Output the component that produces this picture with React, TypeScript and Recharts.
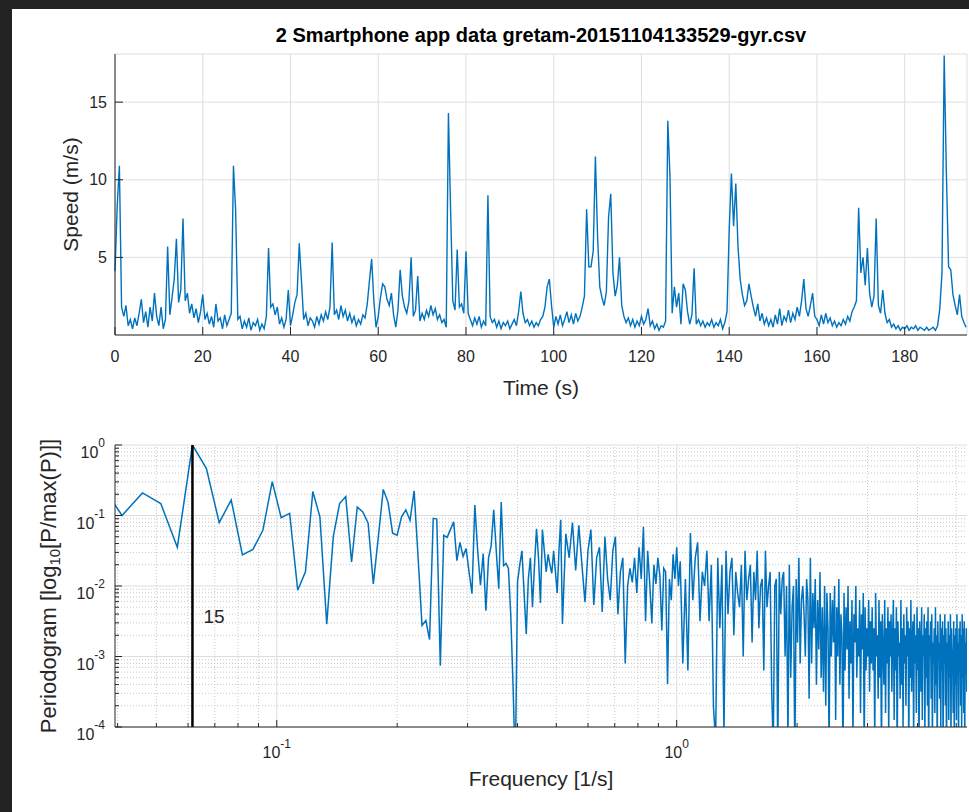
import { LineChart, Line, XAxis, YAxis, CartesianGrid, ReferenceLine } from "recharts";

const TITLE = "2 Smartphone app data gretam-20151104133529-gyr.csv";

// speed trace, one reading every half second, 0 .. 194 s
const SAMPLE_STEP = 0.5;
const speed = [
  4.1, 8.3, 10.9, 1.8, 1.2, 1.9, 0.6, 1.0, 0.4, 1.1, 0.6, 1.4, 2.3, 0.8, 1.5, 0.5, 1.8, 0.9, 2.7, 1.2,
  0.6, 1.8, 0.4, 1.0, 5.7, 1.3, 2.4, 3.6, 6.2, 2.1, 2.9, 7.5, 2.2, 2.7, 1.4, 2.0, 1.1, 1.7, 0.8, 1.5,
  2.6, 1.0, 1.4, 0.7, 1.2, 0.5, 2.0, 0.9, 1.1, 0.4, 1.3, 0.6, 1.0, 1.4, 10.9, 8.0, 1.0, 1.2, 0.4, 0.9,
  0.5, 1.1, 0.3, 0.8, 0.6, 1.0, 0.3, 0.7, 0.4, 1.2, 5.6, 1.8, 2.0, 1.3, 1.8, 0.7, 1.1, 0.5, 1.0, 2.9,
  0.6, 1.3, 2.1, 2.6, 5.9, 3.5, 1.0, 1.4, 0.6, 1.1, 0.9, 0.5, 1.2, 0.7, 1.3, 0.9, 1.5, 1.0, 1.8, 5.95,
  1.3, 1.6, 1.0, 1.9, 1.2, 1.6, 0.9, 1.4, 0.8, 1.2, 0.6, 1.0, 0.7, 1.3, 1.1, 2.0, 3.5, 4.9, 2.2, 0.5,
  1.2, 2.4, 3.3, 3.1, 2.3, 1.9, 2.7, 1.3, 0.5, 1.6, 4.2, 2.5, 1.8, 1.4, 2.2, 5.0, 1.2, 1.6, 3.8, 0.9,
  1.4, 1.0, 1.6, 1.2, 1.9, 1.3, 1.7, 1.0, 1.3, 0.8, 1.0, 0.5, 14.3, 8.0, 2.2, 1.6, 5.5, 1.8, 2.0, 1.4,
  5.4, 1.4, 1.0, 0.6, 1.1, 0.7, 1.2, 0.5, 0.9, 0.6, 9.0, 1.2, 0.8, 1.0, 0.5, 0.9, 0.4, 0.8, 0.6, 0.9,
  0.4, 0.7, 1.0, 0.6, 1.5, 2.8, 1.4, 0.8, 1.0, 0.6, 0.9, 0.5, 0.8, 0.6, 1.0, 1.2, 1.8, 3.1, 3.6, 1.9,
  0.5, 1.2, 0.7, 1.3, 0.6, 1.0, 1.5, 0.8, 1.3, 0.7, 1.4, 0.9, 1.2, 1.8, 2.5, 8.1, 4.4, 4.4, 5.4, 11.5,
  6.3, 3.1, 2.4, 1.9, 2.8, 7.6, 9.1, 4.0, 2.5, 3.2, 5.0, 1.9, 1.2, 0.8, 1.1, 0.6, 1.0, 0.5, 0.9, 0.6,
  1.2, 0.7, 1.0, 1.7, 0.6, 0.9, 0.4, 0.7, 0.3, 0.6, 0.5, 0.9, 13.8, 10.2, 1.4, 3.1, 1.8, 2.7, 0.7, 3.3,
  2.9, 1.5, 0.7, 1.3, 4.3, 0.7, 1.0, 0.6, 0.9, 0.5, 0.8, 0.6, 1.0, 0.5, 0.8, 0.6, 1.0, 0.4, 0.8, 1.5,
  6.8, 10.4, 7.0, 9.75, 5.7, 3.6, 2.6, 1.9, 2.2, 3.3, 2.5, 1.8, 1.2, 2.0, 0.9, 1.4, 0.7, 1.1, 0.6, 1.0,
  0.5, 1.3, 0.7, 1.7, 0.6, 1.2, 0.9, 1.6, 0.8, 1.4, 1.0, 1.8, 1.2, 2.2, 3.6, 1.7, 1.2, 1.9, 2.7, 1.2,
  1.0, 0.6, 1.3, 0.7, 1.4, 0.8, 1.1, 0.6, 0.9, 0.5, 0.8, 0.6, 1.0, 0.7, 1.2, 0.9, 1.5, 1.8, 2.2, 8.2,
  4.0, 5.0, 3.2, 5.6, 2.7, 1.8, 2.5, 7.5, 1.9, 1.4, 2.9, 1.4, 0.8, 1.0, 0.5, 0.7, 0.4, 0.6, 0.3, 0.5,
  0.4, 0.6, 0.3, 0.5, 0.4, 0.6, 0.3, 0.5, 0.4, 0.3, 0.5, 0.3, 0.4, 0.5, 0.3, 0.6, 1.7, 4.0, 18.0, 10.4,
  4.4, 4.2, 2.6, 1.9, 1.3, 2.6, 1.2, 0.8, 0.5,
];

const timeTicks = [0, 20, 40, 60, 80, 100, 120, 140, 160, 180];
const speedTicks = [5, 10, 15];

// periodogram: log10(P/max(P)) per frequency bin
const BIN_WIDTH = 1 / 195;
const LOW_FIRST_BIN = 7; // every bin
const lowPower = [
  -0.5, -1.0, -0.68, -0.83, -1.45, 0, -0.33, -1.1, -0.78, -1.56,
  -1.48, -1.21, -0.52, -1.03, -0.97, -2.06, -1.8, -0.66, -1.02, -2.54,
  -1.3, -0.83, -0.73, -1.66, -0.88, -0.95, -1.11, -1.97, -1.3, -0.63,
  -0.81, -1.25, -1.28, -1.02, -0.92, -1.07, -0.65, -1.6, -2.56, -2.49,
  -2.76, -1.04, -1.05, -3.13, -1.28, -1.31, -1.2, -1.09, -1.64, -1.38,
  -1.58, -1.47, -1.8, -2.11, -0.85, -1.5, -1.99, -1.54, -2.35, -1.6,
  -1.43, -0.92, -1.5, -2.04, -0.81, -1.71, -1.68, -1.75, -2.4, -3.4,
  -4.6, -1.94, -1.7, -1.5, -2.1, -2.68, -1.9, -1.6, -2.3, -1.7,
  -1.19, -1.6, -2.24, -1.2, -1.5, -1.8, -1.55, -1.7, -1.82, -1.5,
  -1.8, -2.1, -1.5, -1.06,
];
const MID_FIRST_BIN = 101; // every 2nd bin
const midPower = [
  -2.54, -1.26, -1.6, -1.1, -1.78, -1.14, -1.7, -2.23, -1.5, -1.2,
  -2.27, -1.6, -1.45, -2.37, -1.3, -1.9, -2.2, -1.5, -1.3, -2.4,
  -1.8, -1.6, -3.1, -2.0, -1.75, -1.95, -1.6, -2.1, -1.45, -1.9,
  -1.16, -2.5, -1.5, -1.97, -2.53, -1.7, -1.97, -1.6, -1.85, -2.63,
  -1.75, -1.8, -3.39, -1.9, -2.2, -1.55, -1.9, -1.45, -2.0, -1.65,
];
const HIGH_FIRST_BIN = 202; // every 3rd bin
const highPower = [
  -3.1, -1.9, -3.2, -1.25, -2.2, -1.6, -1.38, -2.5, -1.8, -2.0,
  -1.5, -2.5, -1.7, -3.72, -4.2, -1.6, -2.6, -1.7, -4.1, -1.5,
  -2.4, -1.8, -1.6, -2.7, -1.8, -2.1, -2.3, -1.7, -3.0, -1.5,
  -2.2, -1.9, -1.7, -2.8,
  -1.8, -2.2, -1.5, -2.6, -2.0, -1.9, -3.2, -1.5, -2.3, -2.0,
  -1.8, -3.5, -4.3, -2.0, -1.9, -4.4, -1.8, -2.4, -1.9, -1.8,
  -3.0, -2.0, -4.2, -1.7, -3.3, -2.3, -2.0, -4.5, -1.9, -2.8,
  -1.6, -3.1, -2.2,
  -2.0, -2.4, -3.0, -1.9, -2.2, -3.6, -1.6, -3.1, -2.1, -2.6,
  -1.9, -3.4, -2.2, -2.9, -1.8, -3.3, -2.3, -3.5, -2.0, -3.7,
  -2.1, -2.6, -4.3, -2.1, -3.0, -2.2, -2.8, -2.0, -3.9, -2.3,
  -3.0, -1.9, -3.4, -2.4, -2.7, -4.5, -2.1, -3.2, -2.3, -2.9,
  -2.0, -3.6, -2.5, -3.1, -2.2, -4.2, -2.4, -2.8, -2.0, -3.3,
  -2.6, -3.0, -2.2, -3.8, -2.4, -2.9, -2.1, -4.4, -2.3, -3.2,
  -2.6, -3.0, -2.2, -3.5, -2.5, -3.1,
  -2.3, -3.2, -2.6, -4.2, -2.1, -3.0, -2.7, -3.6, -2.2, -3.3,
  -2.5, -4.4, -2.4, -2.9, -3.4, -2.2, -3.8, -2.6, -3.1, -2.3,
  -4.1, -2.5, -3.0, -2.4, -3.5, -2.7, -2.2, -3.9, -2.6, -3.2,
  -2.3, -4.5, -2.5, -3.0, -2.8, -3.6, -2.2, -3.4, -2.6, -4.0,
  -2.4, -3.1, -2.7, -3.7, -2.3, -3.0, -2.5, -4.3, -2.6, -3.3,
  -2.2, -3.5, -2.8, -2.5, -4.2, -2.4, -3.1, -2.7, -3.8, -2.3,
  -3.2, -2.6, -4.4, -2.5, -2.9, -3.5, -2.3, -3.9, -2.7, -3.0,
  -2.4, -4.1, -2.6, -3.3, -2.5, -3.7, -2.3, -4.5, -2.7, -3.0,
  -2.5, -3.6, -2.4, -4.2, -2.8, -3.1, -2.6, -3.8, -2.3, -3.4,
  -2.7, -4.4, -2.5, -3.0, -2.8, -3.6, -2.4, -4.0, -2.6, -3.2,
  -2.5, -4.3, -2.7, -3.1, -2.4, -3.7, -2.6, -4.5, -2.8, -3.2,
  -2.5, -3.9, -2.7, -3.3, -2.4, -4.2, -2.6, -3.0, -2.9, -3.8,
  -2.5, -4.1, -2.7, -3.4, -2.6, -3.9, -2.4, -3.2, -2.8, -4.4,
  -2.6, -3.1, -2.5, -3.7, -2.7, -4.0, -2.4, -3.3, -2.6, -3.8,
  -2.5, -4.2, -2.8, -3.1, -2.6, -3.5,
];
const PEAK_BIN = 12;
const PEAK_LABEL = "15";

const freqMajor = [0.1, 1];
const freqMinor = [0.04, 0.05, 0.06, 0.07, 0.08, 0.09, 0.2, 0.3, 0.4, 0.5, 0.6, 0.7, 0.8, 0.9, 2, 3, 4, 5];
const powerMajor = [1e-4, 1e-3, 1e-2, 1e-1, 1];
const powerMinor = [
  2e-4, 3e-4, 4e-4, 5e-4, 6e-4, 7e-4, 8e-4, 9e-4,
  2e-3, 3e-3, 4e-3, 5e-3, 6e-3, 7e-3, 8e-3, 9e-3,
  2e-2, 3e-2, 4e-2, 5e-2, 6e-2, 7e-2, 8e-2, 9e-2,
  0.2, 0.3, 0.4, 0.5, 0.6, 0.7, 0.8, 0.9,
];

const speedData = speed.map((v, i) => ({ t: i * SAMPLE_STEP, v }));
const toPoints = (first: number, step: number, logs: number[]) =>
  logs.map((e, i) => ({ f: (first + i * step) * BIN_WIDTH, p: Math.pow(10, e) }));
const periodogramData = [
  ...toPoints(LOW_FIRST_BIN, 1, lowPower),
  ...toPoints(MID_FIRST_BIN, 2, midPower),
  ...toPoints(HIGH_FIRST_BIN, 3, highPower),
];

const FONT = '"Liberation Sans", Arial, Helvetica, sans-serif';
const INK = "#262626";
const BLUE = "#0072BD";
const GRID = "#dedede";

const isDecade = (v: number) => Math.abs(Math.log10(v) - Math.round(Math.log10(v))) < 1e-6;
const exponent = (v: number) => String(Math.round(Math.log10(v)));

// inward tick marks, MATLAB style
const timeTick = (p: any) => (
  <g>
    <line x1={p.x} x2={p.x} y1={p.y} y2={p.y - 8} stroke={INK} />
    <text x={p.x} y={p.y + 27} textAnchor="middle" fontSize={16} fill={INK} fontFamily={FONT}>
      {p.payload.value}
    </text>
  </g>
);
const topTick = (len: number | ((v: number) => number)) => (p: any) => {
  const l = typeof len === "number" ? len : len(p.payload.value);
  return <line x1={p.x} x2={p.x} y1={p.y} y2={p.y + l} stroke={INK} />;
};
const rightTick = (len: number | ((v: number) => number)) => (p: any) => {
  const l = typeof len === "number" ? len : len(p.payload.value);
  return <line x1={p.x} x2={p.x - l} y1={p.y} y2={p.y} stroke={INK} />;
};
const speedTick = (p: any) => (
  <g>
    <line x1={p.x} x2={p.x + 8} y1={p.y} y2={p.y} stroke={INK} />
    <text x={p.x - 8} y={p.y} dy="0.35em" textAnchor="end" fontSize={16} fill={INK} fontFamily={FONT}>
      {p.payload.value}
    </text>
  </g>
);
const logLen = (v: number) => (isDecade(v) ? 7 : 4);
const freqTick = (p: any) => {
  const v = p.payload.value;
  return (
    <g>
      <line x1={p.x} x2={p.x} y1={p.y} y2={p.y - logLen(v)} stroke={INK} />
      {isDecade(v) && (
        <text x={p.x} y={p.y + 31} textAnchor="middle" fontSize={16} fill={INK} fontFamily={FONT}>
          10<tspan dy={-10} fontSize={12}>{exponent(v)}</tspan>
        </text>
      )}
    </g>
  );
};
const powerTick = (p: any) => {
  const v = p.payload.value;
  return (
    <g>
      <line x1={p.x} x2={p.x + logLen(v)} y1={p.y} y2={p.y} stroke={INK} />
      {isDecade(v) && (
        <text x={p.x - 10} y={p.y + 13} textAnchor="end" fontSize={16} fill={INK} fontFamily={FONT}>
          10<tspan dy={-11} fontSize={12}>{exponent(v)}</tspan>
        </text>
      )}
    </g>
  );
};

const FREQ_DOMAIN: [number, number] = [0.0394, 5.32];
const POWER_DOMAIN: [number, number] = [1e-4, 1];
const freqTicks = [...freqMinor, ...freqMajor].sort((a, b) => a - b);
const powerTicks = [...powerMinor, ...powerMajor].sort((a, b) => a - b);

export default function App() {
  return (
    <div
      style={{
        position: "absolute",
        left: 0,
        top: 0,
        width: 969,
        height: 812,
        background: "#fff",
        fontFamily: FONT,
        overflow: "hidden",
      }}
    >
      <div style={{ position: "absolute", left: 0, top: 0, width: 12, height: 812, background: "#222" }} />
      <div style={{ position: "absolute", left: 0, top: 0, width: 969, height: 9, background: "#222" }} />

      <div style={{ position: "absolute", left: 0, top: 0 }}>
        <LineChart width={969} height={400} data={speedData} margin={{ top: 54, right: 2, bottom: 35, left: 75 }}>
          <CartesianGrid stroke={GRID} />
          <XAxis
            dataKey="t"
            type="number"
            domain={[0, 194.2]}
            ticks={timeTicks}
            interval={0}
            height={30}
            tickLine={false}
            tickSize={0}
            tickMargin={0}
            axisLine={{ stroke: INK }}
            tick={timeTick}
          />
          <XAxis
            xAxisId="top"
            orientation="top"
            type="number"
            domain={[0, 194.2]}
            ticks={timeTicks}
            interval={0}
            height={0}
            tickLine={false}
            tickSize={0}
            tickMargin={0}
            axisLine={{ stroke: INK }}
            tick={topTick(8)}
          />
          <YAxis
            type="number"
            domain={[0, 18.1]}
            ticks={speedTicks}
            interval={0}
            width={40}
            tickLine={false}
            tickSize={0}
            tickMargin={0}
            axisLine={{ stroke: INK }}
            tick={speedTick}
          />
          <YAxis
            yAxisId="right"
            orientation="right"
            type="number"
            domain={[0, 18.1]}
            ticks={speedTicks}
            interval={0}
            width={0}
            tickLine={false}
            tickSize={0}
            tickMargin={0}
            axisLine={{ stroke: INK }}
            tick={rightTick(8)}
          />
          <Line type="linear" dataKey="v" stroke={BLUE} strokeWidth={1.4} dot={false} isAnimationActive={false} />
        </LineChart>
      </div>

      <div style={{ position: "absolute", left: 0, top: 400 }}>
        <LineChart width={969} height={412} data={periodogramData} margin={{ top: 45, right: 2, bottom: 55, left: 75 }}>
          {freqMinor.map((f) => (
            <ReferenceLine key={"fm" + f} x={f} stroke="#c8c8c8" strokeDasharray="1 2" />
          ))}
          {powerMinor.map((p) => (
            <ReferenceLine key={"pm" + p} y={p} stroke="#c8c8c8" strokeDasharray="1 2" />
          ))}
          {freqMajor.map((f) => (
            <ReferenceLine key={"fM" + f} x={f} stroke={GRID} />
          ))}
          {powerMajor.map((p) => (
            <ReferenceLine key={"pM" + p} y={p} stroke={GRID} />
          ))}
          <XAxis
            dataKey="f"
            type="number"
            scale="log"
            domain={FREQ_DOMAIN}
            allowDataOverflow
            ticks={freqTicks}
            interval={0}
            height={30}
            tickLine={false}
            tickSize={0}
            tickMargin={0}
            axisLine={{ stroke: INK }}
            tick={freqTick}
          />
          <XAxis
            xAxisId="top"
            orientation="top"
            type="number"
            scale="log"
            domain={FREQ_DOMAIN}
            allowDataOverflow
            ticks={freqTicks}
            interval={0}
            height={0}
            tickLine={false}
            tickSize={0}
            tickMargin={0}
            axisLine={{ stroke: INK }}
            tick={topTick(logLen)}
          />
          <YAxis
            type="number"
            scale="log"
            domain={POWER_DOMAIN}
            allowDataOverflow
            ticks={powerTicks}
            interval={0}
            width={40}
            tickLine={false}
            tickSize={0}
            tickMargin={0}
            axisLine={{ stroke: INK }}
            tick={powerTick}
          />
          <YAxis
            yAxisId="right"
            orientation="right"
            type="number"
            scale="log"
            domain={POWER_DOMAIN}
            allowDataOverflow
            ticks={powerTicks}
            interval={0}
            width={0}
            tickLine={false}
            tickSize={0}
            tickMargin={0}
            axisLine={{ stroke: INK }}
            tick={rightTick(logLen)}
          />
          <Line type="linear" dataKey="p" stroke={BLUE} strokeWidth={1.5} dot={false} isAnimationActive={false} />
          <ReferenceLine
            x={PEAK_BIN * BIN_WIDTH}
            stroke="#000"
            strokeWidth={2.5}
            label={(props: any) => (
              <text
                x={props.viewBox.x + 11}
                y={props.viewBox.y + 178}
                fontSize={19}
                fill={INK}
                fontFamily={FONT}
              >
                {PEAK_LABEL}
              </text>
            )}
          />
        </LineChart>
      </div>

      <svg
        width={969}
        height={812}
        style={{ position: "absolute", left: 0, top: 0, pointerEvents: "none" }}
        fontFamily={FONT}
        fill={INK}
      >
        <text x={541} y={42} textAnchor="middle" fontSize={20} fontWeight="bold" fill="#000">
          {TITLE}
        </text>
        <text x={541} y={395} textAnchor="middle" fontSize={21}>
          Time (s)
        </text>
        <text
          x={70}
          y={194.5}
          transform="rotate(-90 70 194.5)"
          textAnchor="middle"
          dominantBaseline="central"
          fontSize={21}
        >
          Speed (m/s)
        </text>
        <text x={541} y={786} textAnchor="middle" fontSize={21}>
          Frequency [1/s]
        </text>
        <text
          x={48}
          y={586}
          transform="rotate(-90 48 586)"
          textAnchor="middle"
          dominantBaseline="central"
          fontSize={22}
        >
          Periodogram [log
          <tspan dy={6} fontSize={15}>
            10
          </tspan>
          <tspan dy={-6}>[P/max(P)]]</tspan>
        </text>
      </svg>
    </div>
  );
}
